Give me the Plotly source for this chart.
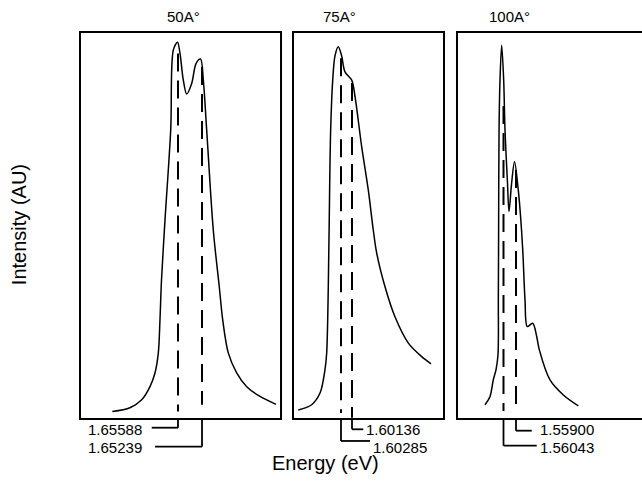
import plotly.graph_objects as go

# ---- data (energy in eV, intensity in arbitrary units) ----
E_50 = [1.66543, 1.66286, 1.66116, 1.65995, 1.65922, 1.65874, 1.65850, 1.65828, 1.65777,
        1.65694, 1.65656, 1.65595, 1.65559, 1.65511, 1.65462, 1.65389, 1.65326, 1.65260,
        1.65220, 1.65171, 1.65075, 1.64988, 1.64938, 1.64857, 1.64735, 1.64589, 1.64396,
        1.64163]
I_50 = [0.017, 0.027, 0.048, 0.083, 0.120, 0.173, 0.261, 0.367, 0.527,
        0.766, 0.979, 1.000, 0.970, 0.899, 0.862, 0.890, 0.943, 0.955,
        0.899, 0.766, 0.500, 0.349, 0.261, 0.173, 0.120, 0.083, 0.057,
        0.036]

E_75 = [1.60863, 1.60682, 1.60569, 1.60502, 1.60479, 1.60457, 1.60446, 1.60425, 1.60397,
        1.60367, 1.60322, 1.60278, 1.60231, 1.60140, 1.60095, 1.60005, 1.59915, 1.59848,
        1.59801, 1.59689, 1.59554, 1.59373, 1.59192, 1.59066]
I_75 = [0.021, 0.035, 0.066, 0.128, 0.172, 0.349, 0.500, 0.766, 0.899,
        0.963, 0.988, 0.965, 0.921, 0.899, 0.855, 0.722, 0.606, 0.500,
        0.438, 0.349, 0.269, 0.199, 0.163, 0.144]

E_100 = [1.56255, 1.56197, 1.56160, 1.56129, 1.56106, 1.56102, 1.56099, 1.56094, 1.56083,
         1.56064, 1.56041, 1.56026, 1.55999, 1.55980, 1.55952, 1.55917, 1.55874, 1.55849,
         1.55823, 1.55797, 1.55771, 1.55709, 1.55663, 1.55633, 1.55511, 1.55359, 1.55187]
I_100 = [0.035, 0.057, 0.101, 0.128, 0.168, 0.314, 0.500, 0.766, 0.899,
         0.992, 0.899, 0.766, 0.633, 0.549, 0.620, 0.682, 0.606, 0.540,
         0.447, 0.314, 0.243, 0.252, 0.216, 0.181, 0.101, 0.061, 0.032]

peaks_50 = [1.65588, 1.65239]
peaks_75 = [1.60285, 1.60136]
peaks_100 = [1.56043, 1.55900]
peak_top_50 = [0.970, 0.934]
peak_top_75 = [0.957, 0.891]
peak_top_100 = [0.830, 0.660]
peak_bot_50 = [0.017, 0.035]
peak_bot_75 = [0.013, 0.0]
peak_bot_100 = [0.018, 0.018]

titles = ["50A°", "75A°", "100A°"]

FONT = "Liberation Sans, Arial, sans-serif"

fig = go.Figure()

panels = [
    ("x", "y", E_50, I_50, peaks_50, peak_top_50, peak_bot_50),
    ("x2", "y2", E_75, I_75, peaks_75, peak_top_75, peak_bot_75),
    ("x3", "y3", E_100, I_100, peaks_100, peak_top_100, peak_bot_100),
]

for xa, ya, E, I, pk, top, bot in panels:
    fig.add_trace(go.Scatter(x=E, y=I, xaxis=xa, yaxis=ya, mode="lines",
                             line=dict(color="black", width=1.5, shape="spline", smoothing=0.9),
                             showlegend=False, hoverinfo="skip"))
    for e, t, b in zip(pk, top, bot):
        fig.add_trace(go.Scatter(x=[e, e], y=[t, b], xaxis=xa, yaxis=ya, mode="lines",
                                 line=dict(color="black", width=2, dash="18px,9px"),
                                 showlegend=False, hoverinfo="skip"))

# ---- layout ----
domains = [[0.0, 0.3577], [0.3790, 0.6477], [0.6708, 1.0]]
xranges = [[1.67013, 1.64090], [1.60935, 1.58890], [1.56575, 1.54459]]
yrange = [-0.003, 1.027]

ax_common = dict(showticklabels=False, showgrid=False, zeroline=False, ticks="",
                 showline=False, fixedrange=True)
layout = dict(
    width=642, height=487,
    margin=dict(l=80, r=0, t=32, b=68),
    paper_bgcolor="white", plot_bgcolor="white",
    font=dict(family=FONT, color="black"),
)
for i, (dom, xr) in enumerate(zip(domains, xranges)):
    sfx = "" if i == 0 else str(i + 1)
    layout["xaxis" + sfx] = dict(domain=dom, range=xr, anchor="y" + sfx, **ax_common)
    layout["yaxis" + sfx] = dict(domain=[0, 1], range=yrange, anchor="x" + sfx, **ax_common)
fig.update_layout(**layout)

# panel frames (third one runs off the right edge)
shapes = []
for i in range(3):
    sfx = "" if i == 0 else str(i + 1)
    shapes.append(dict(type="rect", xref="x" + sfx + " domain", yref="y" + sfx + " domain",
                       x0=0, x1=1.2 if i == 2 else 1, y0=0, y1=1,
                       line=dict(color="black", width=2), layer="above"))

# leader lines and peak labels: (axis, peak E, drop y, end E, label E, label y, anchor)
leaders = [
    ("x", peaks_50[0], -0.0225, 1.65970, 1.66082, -0.028, "right"),
    ("x", peaks_50[1], -0.0716, 1.65922, 1.66082, -0.0749, "right"),
    ("x2", peaks_75[0], -0.0568, 1.59892, 1.59885, -0.0749, "left"),
    ("x2", peaks_75[1], -0.0266, 1.59983, 1.59975, -0.0284, "left"),
    ("x3", peaks_100[0], -0.069, 1.55663, 1.55650, -0.0749, "left"),
    ("x3", peaks_100[1], -0.0302, 1.55720, 1.55650, -0.0284, "left"),
]
annotations = []
for xa, e, yd, ee, le, ly, anc in leaders:
    shapes.append(dict(type="line", xref=xa, yref="paper", x0=e, x1=e, y0=0, y1=yd,
                       line=dict(color="black", width=1.8)))
    shapes.append(dict(type="line", xref=xa, yref="paper", x0=e, x1=ee, y0=yd, y1=yd,
                       line=dict(color="black", width=1.8)))
    annotations.append(dict(x=le, y=ly, xref=xa, yref="paper", text=f"{e:.5f}",
                            showarrow=False, xanchor=anc, yanchor="middle",
                            font=dict(size=15, family=FONT, color="black")))

# panel titles
for t, px in zip(titles, [0.1833, 0.4626, 0.7651]):
    annotations.append(dict(x=px, y=1.0388, xref="paper", yref="paper", text=t,
                            showarrow=False, xanchor="center", yanchor="middle",
                            font=dict(size=15, family=FONT, color="black")))

annotations.append(dict(x=0.4377, y=-0.1137, xref="paper", yref="paper", text="Energy (eV)",
                        showarrow=False, xanchor="center", yanchor="middle",
                        font=dict(size=20, family=FONT, color="black")))
annotations.append(dict(x=-0.1085, y=0.501, xref="paper", yref="paper", text="Intensity (AU)",
                        showarrow=False, xanchor="center", yanchor="middle", textangle=-90,
                        font=dict(size=20, family=FONT, color="black")))

fig.update_layout(shapes=shapes, annotations=annotations)

fig.write_html("out.html")
